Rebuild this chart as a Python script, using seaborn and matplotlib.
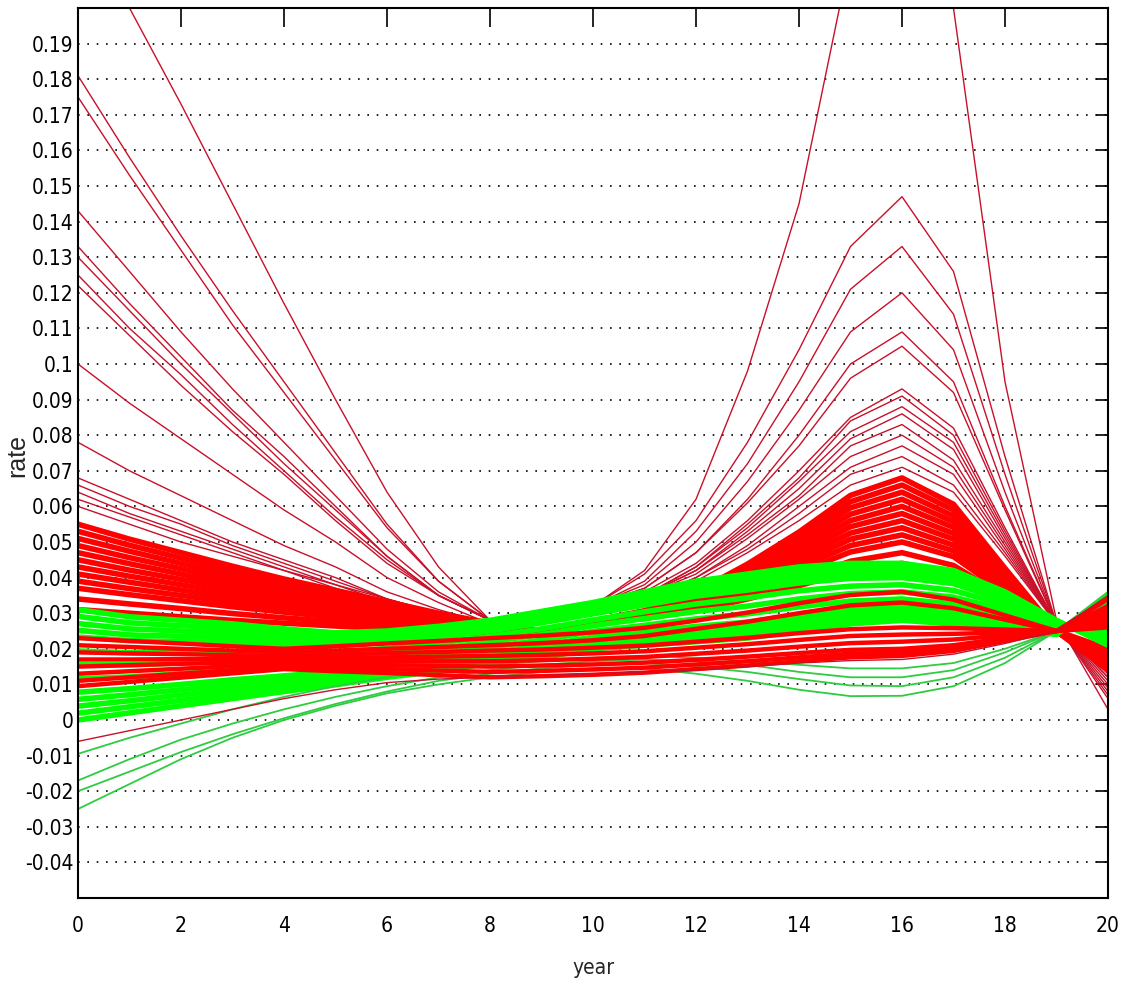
import os
import numpy as np
import pandas as pd
import matplotlib
matplotlib.use('Agg')
import matplotlib.pyplot as plt
from matplotlib import font_manager as fm
import seaborn as sns

# years sampled for every curve
years = list(range(21))

# red curves, thin (high start at year 0 / high hump around year 16)
red_upper = [
    [.230, .200, .173, .145, .117, .090, .064, .043, .028, .027, .032, .042, .062, .098, .145, .215, .243, .200, .095, .028, .003],
    [.181, .158, .136, .115, .095, .075, .055, .039, .028, .027, .032, .041, .056, .078, .104, .133, .147, .126, .074, .027, .006],
    [.175, .153, .132, .111, .092, .073, .054, .039, .028, .027, .032, .039, .053, .072, .095, .121, .133, .114, .069, .027, .007],
    [.143, .126, .109, .093, .078, .063, .048, .036, .028, .027, .032, .038, .050, .067, .087, .109, .120, .104, .064, .027, .008],
    [.133, .117, .102, .087, .074, .060, .046, .035, .028, .027, .032, .037, .047, .062, .080, .100, .109, .095, .060, .027, .009],
    [.130, .115, .100, .086, .072, .059, .046, .035, .028, .027, .032, .037, .047, .061, .077, .096, .105, .092, .059, .027, .010],
    [.125, .110, .097, .083, .070, .057, .045, .035, .028, .027, .031, .036, .044, .056, .070, .085, .093, .082, .054, .027, .011],
    [.122, .108, .094, .081, .069, .056, .044, .035, .028, .027, .031, .035, .043, .055, .068, .084, .091, .080, .053, .027, .012],
    [.100, .089, .079, .069, .059, .050, .040, .033, .027, .027, .031, .035, .043, .054, .067, .081, .088, .078, .052, .027, .012],
    [.078, .070, .063, .056, .049, .043, .036, .031, .027, .027, .031, .035, .042, .053, .065, .079, .086, .076, .051, .027, .013],
    [.068, .062, .056, .050, .045, .040, .034, .030, .027, .027, .031, .035, .042, .052, .063, .077, .083, .073, .050, .027, .013],
    [.066, .060, .055, .049, .044, .039, .034, .030, .027, .027, .031, .035, .041, .051, .062, .074, .080, .071, .049, .027, .014],
    [.064, .058, .053, .048, .043, .038, .034, .030, .027, .027, .031, .034, .040, .049, .060, .071, .077, .069, .048, .027, .014],
    [.062, .057, .052, .047, .042, .038, .033, .030, .027, .027, .031, .034, .040, .048, .058, .069, .074, .066, .047, .027, .015],
    [.060, .055, .050, .046, .042, .037, .033, .030, .027, .027, .031, .034, .039, .047, .056, .066, .071, .064, .046, .027, .015],
]

# red curves, dense band
red_dense = [
    [.055, .0508, .047, .0432, .0396, .0364, .0332, .030, .0272, .025, .0278, .0307, .036, .0438, .0528, .0631, .068, .0606, .0426, .025, .014],
    [.053, .0491, .0455, .0419, .0386, .0356, .0326, .0296, .0269, .025, .0278, .0305, .0356, .043, .0516, .0613, .066, .059, .0418, .025, .0145],
    [.051, .0474, .044, .0406, .0376, .0348, .032, .0292, .0266, .025, .0277, .0303, .0351, .0422, .0503, .0596, .064, .0573, .0411, .025, .015],
    [.049, .0456, .0425, .0394, .0365, .0339, .0313, .0287, .0264, .025, .0277, .0302, .0347, .0414, .049, .0578, .062, .0557, .0403, .025, .0155],
    [.047, .0439, .041, .0381, .0355, .0331, .0307, .0283, .0261, .025, .0277, .030, .0343, .0405, .0478, .056, .060, .0541, .0395, .025, .016],
    [.045, .0421, .0395, .0369, .0344, .0322, .030, .0278, .0259, .025, .0276, .0298, .0338, .0397, .0465, .0543, .058, .0524, .0388, .025, .0165],
    [.043, .0404, .038, .0356, .0334, .0314, .0294, .0274, .0256, .025, .0276, .0296, .0334, .0389, .0453, .0525, .056, .0508, .038, .025, .017],
    [.041, .0387, .0365, .0343, .0324, .0306, .0288, .027, .0253, .025, .0275, .0294, .0329, .0381, .044, .0508, .054, .0491, .0373, .025, .0175],
    [.039, .0369, .035, .0331, .0313, .0297, .0281, .0265, .0251, .025, .0275, .0293, .0325, .0373, .0428, .049, .052, .0475, .0365, .025, .018],
    [.037, .0352, .0335, .0318, .0303, .0289, .0275, .0261, .0248, .025, .0275, .0291, .0321, .0364, .0415, .0472, .050, .0459, .0357, .025, .0185],
    [.034, .0326, .0313, .0299, .0287, .0276, .0265, .0254, .0244, .025, .0274, .0288, .0314, .0352, .0396, .0446, .047, .0434, .0346, .025, .019],
    [.031, .030, .029, .028, .0272, .0264, .0256, .0248, .024, .025, .0273, .0285, .0307, .034, .0377, .042, .044, .0409, .0335, .025, .020],
]

# green curves, main band
green_main = [
    [.031, .029, .028, .027, .0256, .0245, .025, .0263, .028, .0305, .033, .036, .039, .041, .043, .044, .044, .042, .036, .028, .021],
    [.0291, .0273, .0265, .0257, .0245, .0236, .0242, .0255, .0273, .0297, .0322, .0351, .0379, .0399, .0419, .0429, .043, .0411, .0354, .0278, .0219],
    [.0271, .0256, .025, .0244, .0234, .0227, .0234, .0247, .0265, .0289, .0314, .0341, .0369, .0388, .0408, .0419, .042, .0401, .0348, .0275, .0228],
    [.0252, .0239, .0235, .0231, .0223, .0218, .0226, .0239, .0258, .0281, .0306, .0332, .0358, .0376, .0396, .0408, .041, .0392, .0341, .0273, .0236],
    [.0233, .0223, .022, .0218, .0212, .0209, .0218, .0232, .025, .0273, .0298, .0323, .0348, .0365, .0385, .0398, .040, .0383, .0335, .027, .0245],
    [.0194, .0189, .019, .0191, .019, .019, .0201, .0216, .0235, .0256, .0281, .0304, .0326, .0343, .0363, .0376, .038, .0364, .0323, .0265, .0263],
    [.0155, .0155, .016, .0165, .0168, .0172, .0185, .020, .022, .024, .0265, .0285, .0305, .032, .034, .0355, .036, .0345, .031, .026, .028],
    [.0116, .0121, .013, .0139, .0146, .0154, .0169, .0184, .0205, .0224, .0249, .0266, .0284, .0298, .0318, .0334, .034, .0326, .0298, .0255, .0298],
    [.0078, .0088, .010, .0113, .0124, .0136, .0153, .0169, .019, .0208, .0233, .0248, .0263, .0275, .0295, .0313, .032, .0308, .0285, .025, .0315],
    [.0058, .0071, .0085, .0099, .0113, .0126, .0144, .0161, .0183, .0199, .0224, .0238, .0252, .0264, .0284, .0302, .031, .0298, .0279, .0248, .0324],
    [.0039, .0054, .007, .0086, .0102, .0117, .0136, .0153, .0175, .0191, .0216, .0229, .0241, .0253, .0273, .0291, .030, .0289, .0273, .0245, .0333],
    [.0019, .0037, .0055, .0073, .0091, .0108, .0128, .0145, .0168, .0183, .0208, .0219, .0231, .0241, .0261, .0281, .029, .0279, .0266, .0243, .0341],
    [.000, .002, .004, .006, .008, .0099, .012, .0137, .016, .0175, .020, .021, .022, .023, .025, .027, .028, .027, .026, .024, .035],
]

# green curves, thin ones below the band
green_low = [
    [-.025, -.018, -.011, -.005, .000, .004, .0075, .010, .012, .0135, .0145, .0145, .013, .011, .0085, .0067, .0068, .0095, .016, .025, .036],
    [-.020, -.0145, -.009, -.004, .0005, .0045, .008, .011, .013, .0145, .0155, .016, .015, .0135, .0115, .0097, .0095, .012, .0175, .025, .033],
    [-.017, -.011, -.0055, -.001, .003, .0065, .0095, .012, .014, .0155, .0165, .017, .0165, .0155, .0135, .012, .012, .014, .019, .025, .031],
    [-.0095, -.005, -.001, .003, .0065, .0095, .012, .014, .0155, .0165, .0175, .018, .0175, .0165, .0155, .0145, .0145, .016, .020, .025, .029],
]

# red curves drawn over the green band
red_low = [
    [.023, .0222, .0215, .0207, .020, .0207, .0215, .0222, .023, .0237, .0246, .0259, .0279, .0302, .0328, .0351, .036, .0338, .0294, .025, .026],
    [.021, .0205, .020, .0195, .019, .0195, .020, .0205, .021, .0216, .0224, .0236, .0256, .0276, .030, .0322, .033, .0314, .0282, .025, .027],
    [.019, .0187, .0185, .0182, .018, .0184, .0188, .0191, .0195, .0198, .0203, .0209, .022, .0231, .0244, .0255, .026, .0258, .0254, .025, .028],
    [.017, .017, .0171, .0171, .0172, .0174, .0176, .0178, .018, .0183, .0187, .0193, .0203, .0213, .0225, .0236, .024, .0242, .0246, .025, .029],
    [.015, .0154, .0158, .0161, .0165, .0165, .0165, .0165, .0165, .0168, .0172, .0177, .0186, .0195, .0206, .0216, .022, .0226, .0238, .025, .030],
    [.013, .0137, .0144, .0151, .0158, .0156, .0154, .0152, .015, .0153, .0156, .0161, .0169, .0178, .0188, .0197, .020, .021, .023, .025, .031],
    [.011, .012, .013, .014, .015, .0146, .0143, .0139, .0135, .0138, .0142, .0147, .0156, .0165, .0176, .0186, .019, .0202, .0226, .025, .032],
    [.0095, .0107, .0119, .0131, .0143, .0137, .0132, .0126, .012, .0123, .0127, .0133, .0143, .0153, .0165, .0176, .018, .0194, .0222, .025, .034],
]
red_bottom = [
    [-.006, -.003, .000, .003, .006, .0085, .0105, .0115, .012, .0125, .013, .0135, .014, .015, .016, .0167, .017, .0185, .0215, .025, .035],
]

y_ticks = [-0.04, -0.03, -0.02, -0.01, 0, 0.01, 0.02, 0.03, 0.04, 0.05, 0.06, 0.07, 0.08, 0.09,
           0.1, 0.11, 0.12, 0.13, 0.14, 0.15, 0.16, 0.17, 0.18, 0.19]
x_ticks = [0, 2, 4, 6, 8, 10, 12, 14, 16, 18, 20]


def to_long(curves):
    rows = []
    for i, c in enumerate(curves):
        for yr, v in zip(years, c):
            rows.append((i, yr, v))
    return pd.DataFrame(rows, columns=['curve', 'year', 'rate'])


def narrow_font():
    # the tick labels are set in a narrow face; take the narrowest one installed
    files = {}
    for f in fm.fontManager.ttflist:
        files[os.path.basename(f.fname).lower()] = f.fname
    wanted = [('notosans-extracondensed.', 20), ('liberationsansnarrow-regular.', 17),
              ('notosans-condensed.', 18), ('dejavusanscondensed.', 15)]
    for key, size in wanted:
        for name, path in files.items():
            if name.startswith(key):
                return fm.FontProperties(fname=path, size=size)
    return fm.FontProperties(family='Liberation Sans', size=14)


sns.set_style('white')
plt.rcParams['font.family'] = ['Liberation Sans', 'DejaVu Sans']
tick_font = narrow_font()

fig = plt.figure(figsize=(11.23, 9.88), dpi=100)
ax = fig.add_axes([78 / 1123, 1 - 898 / 988, 1030 / 1123, 890 / 988])

# dotted grid first, curves on top
for yt in y_ticks:
    ax.axhline(yt, color='black', lw=1.2, linestyle=(0, (1, 4.6)), zorder=0)

# draw order: red upper/dense, then green, then red low
layers = [
    (red_upper, '#c8102a', 1.0),
    (red_dense, '#ff0000', 4.0),
    (green_main, '#00ff00', 4.0),
    (green_low, '#2ecc40', 1.3),
    (red_low, '#ff0000', 3.2),
    (red_bottom, '#c8102a', 1.0),
]
for curves, col, lw in layers:
    sns.lineplot(data=to_long(curves), x='year', y='rate', units='curve', estimator=None,
                 color=col, linewidth=lw, ax=ax, legend=False)

ax.set_xlim(0, 20)
ax.set_ylim(-0.05, 0.2)
ax.set_xticks(x_ticks)
ax.set_xticklabels([str(x) for x in x_ticks], fontproperties=tick_font)
ax.set_yticks(y_ticks)
ax.set_yticklabels(['%g' % round(v, 2) for v in y_ticks], fontproperties=tick_font)

ax.tick_params(axis='both', direction='in', top=True, right=True, colors='black', width=1.2)
ax.tick_params(axis='x', length=14, pad=13)
ax.tick_params(axis='y', length=8.5, pad=3.5)
for s in ax.spines.values():
    s.set_color('black')
    s.set_linewidth(1.5)

ax.set_xlabel('year', fontproperties=tick_font)
ax.xaxis.label.set_va('center')
ax.xaxis.set_label_coords(0.5, -0.0787)
ax.set_ylabel('rate', fontsize=18)
ax.yaxis.label.set_va('center')
ax.yaxis.set_label_coords(-0.0593, 0.4967)

fig.savefig('out.png', dpi=100, facecolor='white')
